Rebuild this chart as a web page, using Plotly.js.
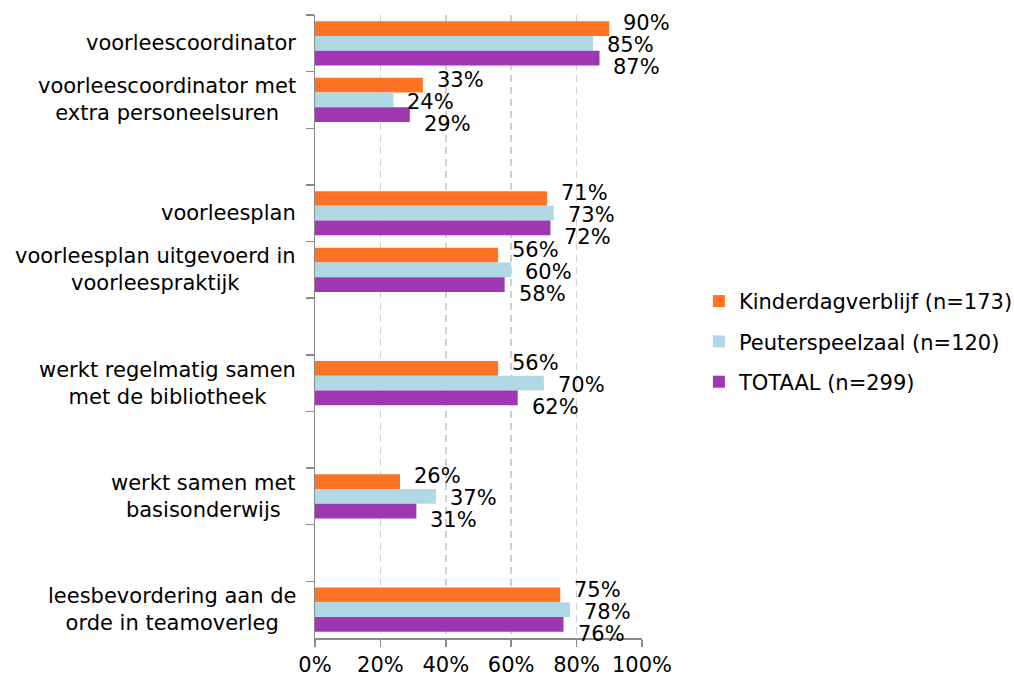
<!DOCTYPE html>
<html>
<head>
<meta charset="utf-8">
<script src="https://cdn.plot.ly/plotly-3.0.1.min.js"></script>
<style>
html,body{margin:0;padding:0;background:#fff;}
#chart{width:1014px;height:676px;}
</style>
</head>
<body>
<div id="chart"></div>
<script>
// Categories (top to bottom)
var categories = [
  "voorleescoordinator",
  "voorleescoordinator met<br>extra personeelsuren",
  "voorleesplan",
  "voorleesplan uitgevoerd in<br>voorleespraktijk",
  "werkt regelmatig samen<br>met de bibliotheek",
  "werkt samen met<br>basisonderwijs",
  "leesbevordering aan de<br>orde in teamoverleg"
];
// Axis slot order including empty spacer slots
var slotOrder = [
  categories[0], categories[1], " ",
  categories[2], categories[3], "  ",
  categories[4], "   ",
  categories[5], "    ",
  categories[6]
];
var seriesNames = ["Kinderdagverblijf (n=173)", "Peuterspeelzaal (n=120)", "TOTAAL (n=299)"];
var kinderdagverblijf = [90, 33, 71, 56, 56, 26, 75];
var peuterspeelzaal   = [85, 24, 73, 60, 70, 37, 78];
var totaal            = [87, 29, 72, 58, 62, 31, 76];
var xTicks = [0, 20, 40, 60, 80, 100];
var xTickLabels = ["0%", "20%", "40%", "60%", "80%", "100%"];

var seriesValues = [kinderdagverblijf, peuterspeelzaal, totaal];
var colors = ["#FF7424", "#B1D9E5", "#A037B2"];
var labelYShift = [20, -2, -24];

var font = "DejaVu Sans, Verdana, sans-serif";
var fs = 21;

var traces = seriesValues.map(function(vals, i){
  return {
    type: "bar",
    orientation: "h",
    name: seriesNames[i],
    legendgroup: "g" + i,
    x: vals,
    y: categories,
    marker: {color: colors[i]},
    hoverinfo: "x+y"
  };
});

var annotations = [];
// category labels (centered multi-line)
categories.forEach(function(c){
  annotations.push({
    xref: "paper", yref: "y", x: 0, y: c,
    xanchor: "right", yanchor: "middle", xshift: -17,
    text: c, showarrow: false, align: "center",
    font: {family: font, size: fs, color: "#000"}
  });
});
// value labels
seriesValues.forEach(function(vals, i){
  vals.forEach(function(v, j){
    annotations.push({
      xref: "x", yref: "y", x: v, y: categories[j],
      xanchor: "left", yanchor: "middle", xshift: 12, yshift: labelYShift[i],
      text: v + "%", showarrow: false,
      font: {family: font, size: fs, color: "#000"}
    });
  });
});

var layout = {
  width: 1014, height: 676,
  margin: {l: 315, r: 372, t: 15, b: 38, pad: 0, autoexpand: false},
  paper_bgcolor: "#fff", plot_bgcolor: "#fff",
  font: {family: font, size: fs, color: "#000"},
  barmode: "group", bargap: 0.22, bargroupgap: 0,
  showlegend: true,
  legend: {
    x: 1.174, xanchor: "left", y: 0.476, yanchor: "middle",
    traceorder: "grouped", tracegroupgap: 10,
    font: {family: font, size: fs, color: "#000"},
    bgcolor: "rgba(0,0,0,0)"
  },
  xaxis: {
    range: [0, 100], tickmode: "array", tickvals: xTicks, ticktext: xTickLabels,
    showgrid: true, gridcolor: "#d0d0d0", gridwidth: 1.5, griddash: "7px,5px",
    zeroline: false, showline: true, linecolor: "#8a8a8a", linewidth: 1.5,
    ticks: "outside", ticklen: 7, tickcolor: "#8a8a8a", tickwidth: 1.5,
    tickfont: {family: font, size: fs, color: "#000"}, fixedrange: true
  },
  yaxis: {
    type: "category", categoryorder: "array", categoryarray: slotOrder,
    range: [slotOrder.length - 0.5, -0.5],
    showticklabels: false, showgrid: false, zeroline: false,
    showline: true, linecolor: "#8a8a8a", linewidth: 1.5,
    ticks: "outside", tickson: "boundaries", ticklen: 8, tickcolor: "#8a8a8a", tickwidth: 1.5,
    fixedrange: true
  },
  annotations: annotations
};

Plotly.newPlot("chart", traces, layout, {displayModeBar: false, staticPlot: true});
</script>
</body>
</html>
